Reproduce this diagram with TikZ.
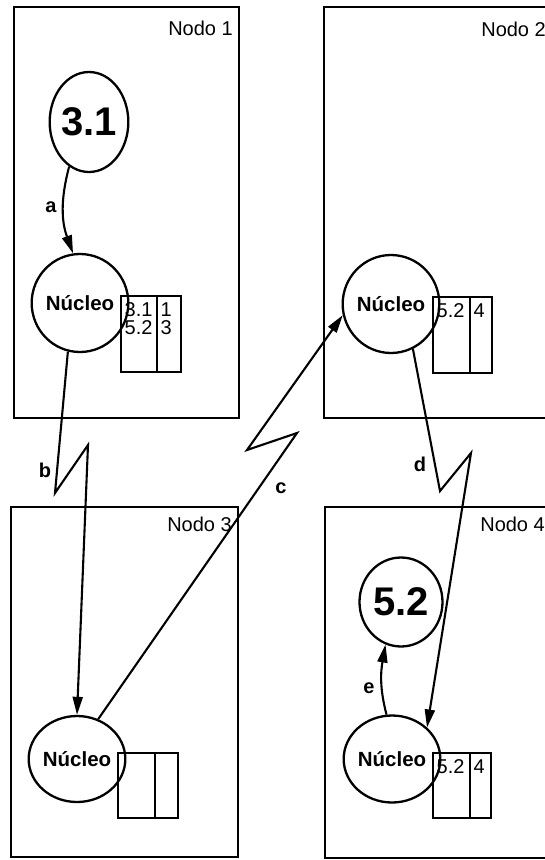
\documentclass[tikz,border=0pt]{standalone}
\usepackage{fontspec}
\setmainfont{Liberation Sans}
\usetikzlibrary{shapes.geometric,arrows.meta}

\begin{document}
\begin{tikzpicture}[x=1pt,y=-1pt,
  frame/.style={draw, rectangle, line width=2.3pt, inner sep=0pt},
  kern/.style={draw, ellipse, line width=2.3pt, inner sep=0pt,
    font=\fontsize{20.5}{24}\selectfont\bfseries},
  proc/.style={draw, ellipse, line width=2.3pt, inner sep=0pt,
    font=\fontsize{40}{48}\selectfont\bfseries},
  cell/.style={draw, rectangle, line width=2.1pt, inner sep=0pt, anchor=north west},
  entry/.style={font=\fontsize{20}{18}\selectfont, inner sep=0pt, anchor=north west,
    align=left},
  title/.style={font=\fontsize{20}{24}\selectfont, inner sep=0pt, anchor=base east},
  tag/.style={font=\fontsize{20}{24}\selectfont\bfseries, inner sep=0pt},
  msg/.style={line width=2.1pt, -{Triangle[length=18pt,width=10pt]}},
]
\useasboundingbox (0,0) rectangle (545,860);
\clip (0,0) rectangle (545,860);

% machines
\node[frame, minimum width=225pt, minimum height=411pt] (box1) at (126.5,212.5) {};
\node[frame, minimum width=228pt, minimum height=411pt] (box2) at (438,212.5) {};
\node[frame, minimum width=227pt, minimum height=350pt] (box3) at (124.5,682) {};
\node[frame, minimum width=227pt, minimum height=351pt] (box4) at (438.5,682.5) {};

\node[title] (lab1) at (233,35) {Nodo 1};
\node[title] (lab2) at (546,36) {Nodo 2};
\node[title] (lab3) at (232,531) {Nodo 3};
\node[title] (lab4) at (545,531) {Nodo 4};

% processes
\node[proc, minimum width=78pt, minimum height=100pt] (p31) at (89,122) {3.1};
\node[proc, minimum width=83pt, minimum height=89pt] (p52) at (401,602) {5.2};

% kernels
\node[kern, minimum width=81pt, minimum height=98pt] (k1) at (80,303) {Núcleo};
\node[kern, minimum width=80pt, minimum height=98pt] (k2) at (391,304) {Núcleo};
\node[kern, minimum width=82pt, minimum height=86pt] (k3) at (77,759) {Núcleo};
\node[kern, minimum width=83pt, minimum height=87pt] (k4) at (392,759) {Núcleo};

% kernel tables: process / machine columns
\node[cell, minimum width=36pt, minimum height=76pt] (t1a) at (120,295) {};
\node[cell, minimum width=24pt, minimum height=76pt] (t1b) at (156,295) {};
\node[cell, minimum width=37pt, minimum height=76pt] (t2a) at (432,296) {};
\node[cell, minimum width=22pt, minimum height=76pt] (t2b) at (469,296) {};
\node[cell, minimum width=37pt, minimum height=65pt] (t3a) at (117,752) {};
\node[cell, minimum width=23pt, minimum height=65pt] (t3b) at (154,752) {};
\node[cell, minimum width=37pt, minimum height=65pt] (t4a) at (432,752) {};
\node[cell, minimum width=21pt, minimum height=65pt] (t4b) at (469,752) {};

\node[entry] (e1a) at ([xshift=4.5pt,yshift=-7.5pt]t1a.north west) {3.1\\5.2};
\node[entry] (e1b) at ([xshift=4.5pt,yshift=-7.5pt]t1b.north west) {1\\3};
\node[entry] (e2a) at ([xshift=4.5pt,yshift=-7.5pt]t2a.north west) {5.2};
\node[entry] (e2b) at ([xshift=4.5pt,yshift=-7.5pt]t2b.north west) {4};
\node[entry] (e4a) at ([xshift=4.5pt,yshift=-7.5pt]t4a.north west) {5.2};
\node[entry] (e4b) at ([xshift=4.5pt,yshift=-7.5pt]t4b.north west) {4};

% zigzag corners of the network links
\coordinate (b1) at (55,493);
\coordinate (b2) at (88,445);
\coordinate (c1) at (297,433);
\coordinate (c2) at (247,450);
\coordinate (d1) at (440,491);
\coordinate (d2) at (471,453);

% messages
\draw[msg] (p31.-114) to[out=-105,in=110] (k1.98);
\draw[msg] (k1.-104) -- (b1) -- (b2) -- (k3.north);
\draw[msg] (k3.62) -- (c1) -- (c2) -- (k2.193);
\draw[msg] (k2.-64) -- (d1) -- (d2) -- (k4.42);
\draw[msg] (k4.97) to[out=105,in=-100] (p52.-110);

\node[tag] (la) at (51,207) {a};
\node[tag] (lb) at (45,470) {b};
\node[tag] (lc) at (281,488) {c};
\node[tag] (ld) at (420,464) {d};
\node[tag] (le) at (369,688) {e};
\end{tikzpicture}
\end{document}
